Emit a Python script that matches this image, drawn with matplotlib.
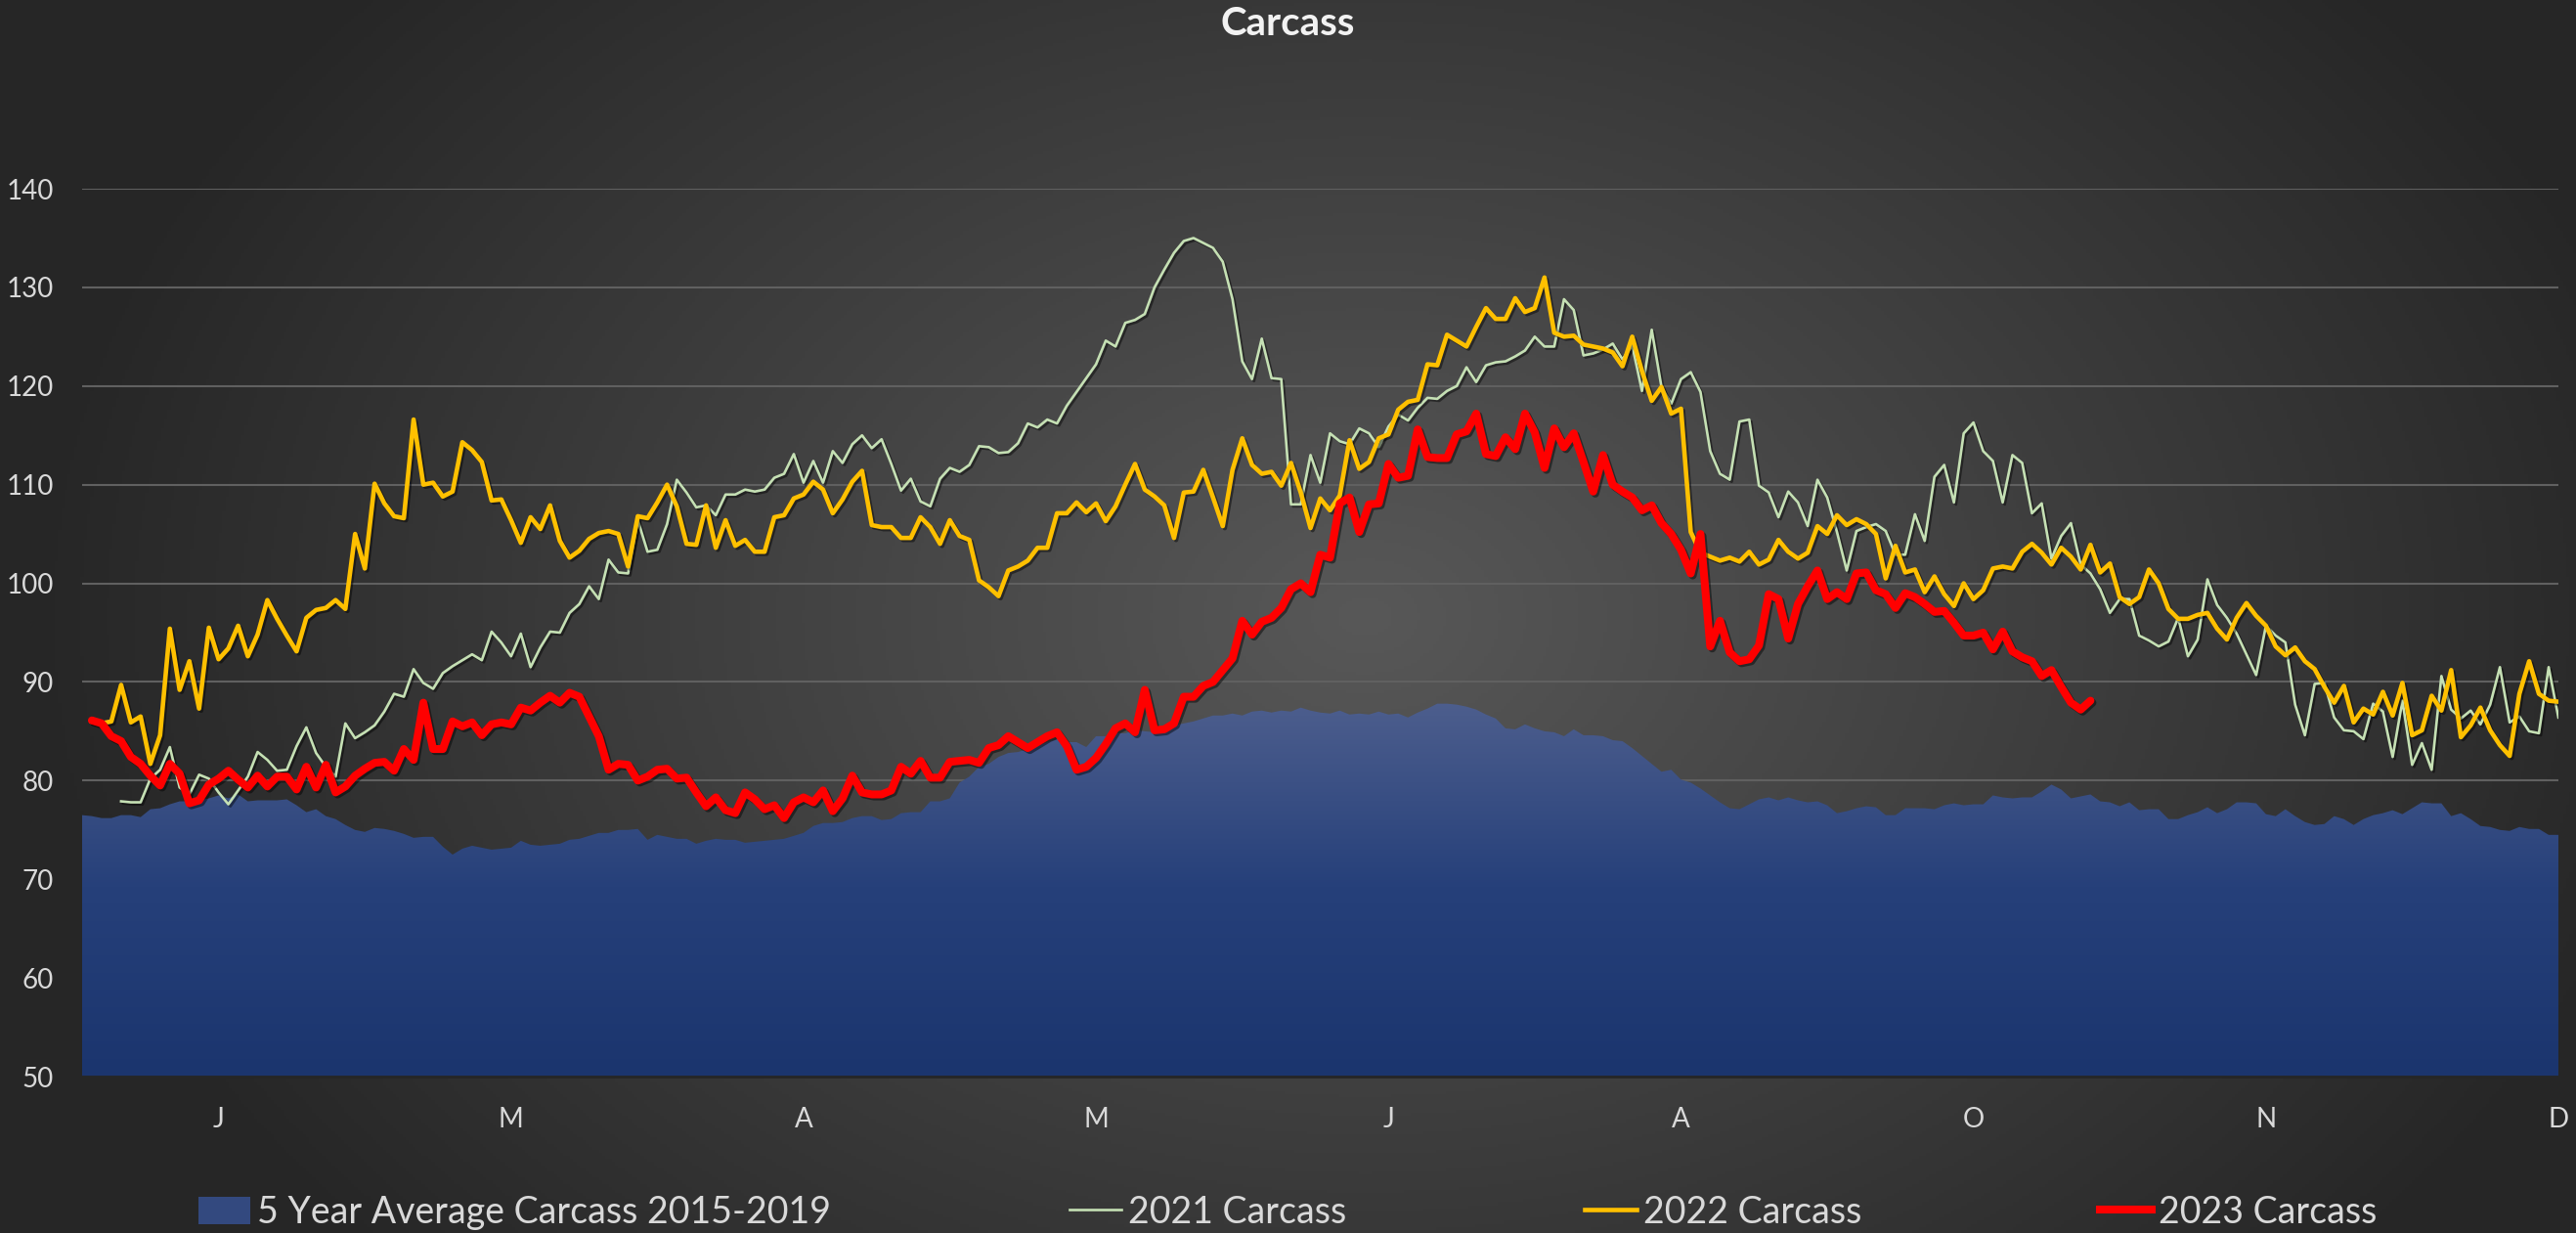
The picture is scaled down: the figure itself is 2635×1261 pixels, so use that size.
import numpy as np
import matplotlib
matplotlib.use("Agg")
import matplotlib.pyplot as plt
from matplotlib.patches import Patch, Polygon
from matplotlib.lines import Line2D
from matplotlib import patheffects as pe
from matplotlib.colors import LinearSegmentedColormap

plt.rcParams['font.family'] = ['Lato', 'DejaVu Sans']

# ---------------- data (daily business-day categories) ----------------
month_labels = ['J', 'M', 'A', 'M', 'J', 'A', 'O', 'N', 'D']
first_label_index = 14
label_interval = 30

avg_2015_2019 = [
    76.5, 76.4, 76.2, 76.2, 76.5, 76.5, 76.3, 77.1, 77.2, 77.6, 77.9, 77.9, 78.0, 78.2, 78.5, 78.2, 78.6, 77.9, 78.0, 78.0,
    78.0, 78.1, 77.5, 76.8, 77.1, 76.4, 76.1, 75.5, 75.0, 74.8, 75.2, 75.1, 74.9, 74.6, 74.2, 74.3, 74.3, 73.3, 72.5, 73.1,
    73.4, 73.2, 73.0, 73.1,
    73.2, 73.9, 73.5, 73.4, 73.5, 73.6, 74.0, 74.1, 74.4, 74.7, 74.7, 75.0, 75.0, 75.1, 74.0, 74.5, 74.3, 74.1, 74.1, 73.6,
    73.9, 74.1, 74.0, 74.0, 73.7, 73.8, 73.9, 74.0, 74.1, 74.4, 74.7, 75.4, 75.7, 75.7, 75.8, 76.2, 76.4, 76.4, 76.0, 76.1,
    76.7, 76.8,
    76.8, 77.9, 77.9, 78.2, 79.8, 80.4, 81.4, 81.7, 82.4, 82.8, 82.9, 83.2, 83.5, 83.9, 84.2, 83.9, 83.9, 83.4, 84.5, 84.5,
    84.8, 84.8, 85.1, 85.0, 84.9, 85.1, 85.6, 85.8, 86.0, 86.3, 86.6, 86.6, 86.8, 86.6, 87.0, 87.1, 86.9, 87.1, 87.0, 87.4,
    87.1, 86.9,
    86.8, 87.1, 86.7, 86.8, 86.7, 87.0, 86.7, 86.8, 86.4, 86.9, 87.3, 87.8, 87.8, 87.7, 87.5, 87.2, 86.7, 86.3, 85.3, 85.2,
    85.7, 85.3, 85.0, 84.9, 84.5, 85.2, 84.6, 84.6, 84.5, 84.1, 84.0, 83.3, 82.5, 81.7, 80.9, 81.1, 80.1, 79.8, 79.2, 78.5,
    77.8, 77.2, 77.1,
    77.6, 78.1, 78.3, 78.0, 78.3, 78.0, 77.8, 77.9, 77.5, 76.7, 76.9, 77.2, 77.4, 77.3, 76.5, 76.5, 77.2, 77.2, 77.2, 77.1,
    77.5, 77.7, 77.5, 77.6, 77.6, 78.5, 78.3, 78.2, 78.3, 78.3, 78.9, 79.6, 79.1, 78.2, 78.4, 78.6, 77.9, 77.8, 77.4, 77.8,
    77.0, 77.1,
    77.1, 76.1, 76.1, 76.5, 76.8, 77.3, 76.7, 77.1, 77.8, 77.8, 77.7, 76.6, 76.4, 77.1, 76.4, 75.8, 75.5, 75.6, 76.4, 76.1,
    75.5, 76.1, 76.5, 76.7, 77.0, 76.6, 77.2, 77.8, 77.7, 77.7, 76.4, 76.7, 76.1, 75.4, 75.3, 75.0, 74.9, 75.3, 75.1, 75.1,
    74.5, 74.5,
]

carcass_2021 = [None, None, None, None] + [
    77.9, 77.8, 77.8, 80.2, 81.1, 83.4, 79.3, 78.6, 80.6, 80.2, 78.8, 77.6, 79.0, 80.4, 82.9, 82.1, 81.0, 81.1, 83.5, 85.4,
    82.8, 81.4, 80.4, 85.8, 84.3, 84.9, 85.6, 87.0, 88.8, 88.5, 91.3, 89.9, 89.3, 90.9, 91.6, 92.2, 92.8, 92.2, 95.1, 94.0,
    92.6, 94.9, 91.5, 93.5, 95.1, 95.0, 97.0, 97.9, 99.7, 98.4, 102.4, 101.1, 101.0, 106.4, 103.2, 103.4, 106.0, 110.5, 109.2, 107.7,
    107.9, 106.9, 109.0, 109.0, 109.5, 109.3, 109.5, 110.7, 111.1, 113.1, 110.2, 112.4, 110.2, 113.4, 112.2, 114.1, 115.0, 113.7, 114.6, 112.1,
    109.4, 110.6,
    108.3, 107.8, 110.6, 111.7, 111.3, 112.0, 113.9, 113.8, 113.2, 113.3, 114.2, 116.2, 115.8, 116.6, 116.2, 118.0, 119.4, 120.8, 122.2, 124.6,
    124.0, 126.4, 126.7, 127.3, 130.0, 131.8, 133.5, 134.7, 135.0, 134.5, 134.0, 132.6, 128.8, 122.5, 120.7, 124.8, 120.8, 120.7, 108.0, 108.0,
    113.0, 110.2,
    115.2, 114.4, 114.1, 115.7, 115.2, 113.8, 115.9, 117.1, 116.5, 117.8, 118.8, 118.7, 119.5, 120.0, 121.9, 120.4, 122.1, 122.4, 122.5, 123.0,
    123.6, 125.0, 124.0, 124.0, 128.8, 127.7, 123.1, 123.3, 123.7, 124.3, 122.7, 124.1, 119.5, 125.7, 119.9, 118.2, 120.7, 121.4, 119.4, 113.4,
    111.1, 110.5, 116.4,
    116.6, 109.9, 109.2, 106.7, 109.3, 108.2, 105.8, 110.5, 108.7, 105.2, 101.3, 105.3, 105.7, 106.0, 105.3, 102.9, 102.9, 107.0, 104.3, 110.8,
    112.0, 108.2, 115.2, 116.3, 113.4, 112.4, 108.2, 113.0, 112.2, 107.1, 108.1, 102.5, 104.8, 106.1, 101.9, 101.0, 99.4, 97.0, 98.4, 98.4,
    94.7, 94.2,
    93.6, 94.1, 96.5, 92.6, 94.3, 100.4, 97.8, 96.5, 94.9, 92.8, 90.7, 95.7, 94.7, 94.0, 87.7, 84.6, 89.8, 89.9, 86.4, 85.1,
    85.0, 84.2, 87.8, 87.0, 82.4, 88.1, 81.6, 83.8, 81.1, 90.6, 87.2, 86.3, 87.1, 85.7, 87.7, 91.5, 85.9, 86.5, 85.0, 84.8,
    91.5, 86.4,
]

carcass_2022 = [None] + [
    86.0, 85.8, 86.0, 89.7, 85.9, 86.5, 81.7, 84.6, 95.4, 89.2, 92.1, 87.3, 95.5, 92.3, 93.4, 95.7, 92.6, 94.8, 98.3, 96.4,
    94.7, 93.1, 96.5, 97.3, 97.5, 98.3, 97.4, 105.0, 101.5, 110.1, 108.1, 106.8, 106.6, 116.6, 110.0, 110.2, 108.8, 109.3, 114.3, 113.5,
    112.3, 108.4, 108.5,
    106.4, 104.1, 106.7, 105.5, 107.9, 104.3, 102.6, 103.3, 104.5, 105.1, 105.3, 105.0, 101.7, 106.8, 106.6, 108.2, 110.0, 107.8, 104.0, 103.9,
    107.9, 103.6, 106.4, 103.8, 104.4, 103.2, 103.2, 106.7, 106.9, 108.6, 109.0, 110.3, 109.5, 107.1, 108.5, 110.3, 111.4, 105.9, 105.7, 105.7,
    104.6, 104.6,
    106.7, 105.7, 104.0, 106.4, 104.8, 104.4, 100.3, 99.6, 98.7, 101.3, 101.7, 102.3, 103.6, 103.6, 107.1, 107.1, 108.2, 107.2, 108.1, 106.3,
    107.8, 110.0, 112.1, 109.5, 108.8, 107.9, 104.6, 109.2, 109.3, 111.5, 108.7, 105.8, 111.5, 114.7, 112.0, 111.1, 111.3, 109.9, 112.2, 109.2,
    105.6, 108.6,
    107.4, 108.9, 114.5, 111.6, 112.3, 114.7, 115.1, 117.6, 118.4, 118.6, 122.2, 122.1, 125.2, 124.6, 124.0, 126.0, 127.9, 126.8, 126.8, 128.9,
    127.5, 127.9, 131.0, 125.4, 125.0, 125.1, 124.2, 124.0, 123.8, 123.4, 122.0, 125.0, 121.5, 118.5, 119.9, 117.2, 117.7, 105.2, 103.1, 102.7,
    102.3, 102.6, 102.2,
    103.2, 101.9, 102.4, 104.4, 103.2, 102.5, 103.1, 105.8, 105.0, 106.9, 105.9, 106.5, 106.0, 105.0, 100.5, 103.8, 101.1, 101.4, 99.1, 100.7,
    98.9, 97.7, 100.0, 98.4, 99.3, 101.5, 101.7, 101.5, 103.2, 104.0, 103.1, 101.9, 103.6, 102.7, 101.4, 103.9, 101.1, 102.0, 98.6, 97.9,
    98.6, 101.4,
    100.0, 97.4, 96.4, 96.4, 96.8, 97.0, 95.4, 94.3, 96.5, 98.0, 96.7, 95.7, 93.6, 92.7, 93.5, 92.1, 91.3, 89.5, 87.9, 89.6,
    85.9, 87.3, 86.7, 89.0, 86.6, 89.9, 84.6, 85.1, 88.6, 87.1, 91.2, 84.4, 85.6, 87.4, 85.1, 83.6, 82.5, 88.8, 92.1, 88.8,
    88.1, 88.0,
]

carcass_2023 = [None] + [
    86.1, 85.8, 84.5, 84.0, 82.4, 81.7, 80.5, 79.5, 81.7, 80.7, 77.7, 78.0, 79.6, 80.2, 81.0, 80.1, 79.3, 80.5, 79.4, 80.4,
    80.4, 79.1, 81.4, 79.3, 81.6, 78.8, 79.4, 80.5, 81.2, 81.8, 81.9, 81.0, 83.2, 82.1, 87.9, 83.2, 83.2, 86.0, 85.5, 85.9,
    84.6, 85.7, 85.9,
    85.7, 87.4, 87.1, 87.9, 88.6, 87.9, 88.9, 88.5, 86.5, 84.5, 81.1, 81.7, 81.6, 80.0, 80.4, 81.1, 81.2, 80.2, 80.3, 78.8,
    77.4, 78.3, 77.0, 76.7, 78.8, 78.1, 77.1, 77.5, 76.2, 77.8, 78.3, 77.8, 79.0, 76.9, 78.2, 80.5, 78.8, 78.6, 78.6, 79.0,
    81.4, 80.7,
    82.0, 80.3, 80.3, 81.9, 82.0, 82.1, 81.8, 83.3, 83.6, 84.5, 83.9, 83.3, 83.9, 84.5, 84.9, 83.5, 81.1, 81.4, 82.3, 83.7,
    85.3, 85.8, 84.9, 89.2, 85.1, 85.2, 85.8, 88.5, 88.5, 89.6, 90.0, 91.2, 92.4, 96.2, 94.8, 96.1, 96.5, 97.5, 99.4, 100.0,
    99.1, 102.9,
    102.6, 108.1, 108.7, 105.2, 108.0, 108.1, 112.1, 110.7, 110.9, 115.6, 112.8, 112.7, 112.7, 115.1, 115.4, 117.2, 113.1, 112.9, 114.8, 113.6,
    117.2, 115.3, 111.7, 115.7, 113.8, 115.2, 112.3, 109.3, 113.0, 110.0, 109.3, 108.7, 107.4, 107.9, 106.1, 105.0, 103.4, 101.0, 105.0, 93.6,
    96.2, 93.0, 92.1,
    92.3, 93.7, 98.9, 98.4, 94.4, 97.9, 99.7, 101.3, 98.4, 99.1, 98.4, 101.0, 101.1, 99.3, 98.9, 97.5, 99.0, 98.6, 97.9, 97.1,
    97.2, 96.0, 94.7, 94.7, 95.0, 93.3, 95.1, 93.1, 92.5, 92.1, 90.6, 91.2, 89.5, 87.9, 87.2, 88.1,
]

series_names = ['5 Year Average Carcass 2015-2019', '2021 Carcass', '2022 Carcass', '2023 Carcass']
y_ticks = [50, 60, 70, 80, 90, 100, 110, 120, 130, 140]


def arr(v):
    return np.array([np.nan if a is None else a for a in v], dtype=float)


# ---------------- figure ----------------
W, H = 2635, 1261
fig = plt.figure(figsize=(W / 100, H / 100), dpi=100)

# radial background
bg = fig.add_axes([0, 0, 1, 1], zorder=-10)
yy, xx = np.mgrid[0:1:400j, 0:1:800j]
d = np.sqrt(((xx - 0.53) / 0.52) ** 2 + ((yy - 0.5) / 0.78) ** 2)
d = np.clip(d, 0, 1)
c0 = np.array([0x58, 0x58, 0x58]) / 255.0
c1 = np.array([0x26, 0x26, 0x26]) / 255.0
img = c0[None, None, :] * (1 - d[..., None]) + c1[None, None, :] * d[..., None]
bg.imshow(img, extent=[0, 1, 0, 1], aspect='auto', origin='lower')
bg.set_axis_off()

left, right = 84 / W, 2617 / W
bottom, top = 1 - 1101 / H, 1 - 193 / H
ax = fig.add_axes([left, bottom, right - left, top - bottom])
ax.set_facecolor('none')

avg = arr(avg_2015_2019)
x = np.arange(len(avg))
ymin = y_ticks[0]

# gradient-filled area
cmap = LinearSegmentedColormap.from_list('blu', ['#1b356e', '#26407a', '#4e5f8e'])
grad = np.linspace(0, 1, 256).reshape(-1, 1)
im = ax.imshow(grad, extent=[x[0], x[-1], ymin, 88.5], origin='lower', aspect='auto',
               cmap=cmap, zorder=1, interpolation='bicubic')
poly = Polygon(np.column_stack([np.r_[x[0], x, x[-1]], np.r_[ymin, avg, ymin]]),
               closed=True, facecolor='none', edgecolor='none', transform=ax.transData)
ax.add_patch(poly)
im.set_clip_path(poly)

shadow = lambda: [pe.SimpleLineShadow(offset=(1.5, -1.5), alpha=0.45, shadow_color='black'), pe.Normal()]

c21 = arr(carcass_2021)
c22 = arr(carcass_2022)
c23 = arr(carcass_2023)
ax.plot(np.arange(len(c21)), c21, color='#c5e0b4', lw=1.9, zorder=3, path_effects=shadow(), solid_joinstyle='round')
ax.plot(np.arange(len(c22)), c22, color='#ffc000', lw=3.3, zorder=4, path_effects=shadow(), solid_joinstyle='round')
ax.plot(np.arange(len(c23)), c23, color='#ff0000', lw=5.8, zorder=5, path_effects=shadow(), solid_joinstyle='round',
        solid_capstyle='round')

ax.set_xlim(x[0], x[-1])
ax.set_ylim(y_ticks[0], y_ticks[-1])
ax.set_yticks(y_ticks)
ax.set_xticks(list(range(first_label_index, len(avg), label_interval)))
ax.set_xticklabels(month_labels)
ax.yaxis.grid(True, color='#606060', lw=1.5)
ax.xaxis.grid(False)
ax.set_axisbelow(True)
for s in ['top', 'right', 'left']:
    ax.spines[s].set_visible(False)
ax.spines['bottom'].set_color('#262626')
ax.spines['bottom'].set_linewidth(2)
ax.spines['bottom'].set_zorder(6)
ax.tick_params(axis='both', length=0, labelsize=20, labelcolor='#d9d9d9')
ax.tick_params(axis='y', pad=21)
ax.tick_params(axis='x', pad=22)

fig.text(0.5, 1 - 24 / H, 'Carcass', ha='center', va='center', fontsize=29,
         fontweight='bold', color='#f2f2f2')

handles = [Patch(facecolor='#33497f', edgecolor='none'),
           Line2D([], [], color='#c5e0b4', lw=1.9),
           Line2D([], [], color='#ffc000', lw=3.3),
           Line2D([], [], color='#ff0000', lw=5.8)]
leg = fig.legend(handles, series_names, loc='center', bbox_to_anchor=(0.5, 1 - 1240 / H), ncol=4,
                 frameon=False, fontsize=27, columnspacing=6.5, handlelength=1.4, handleheight=0.8,
                 handletextpad=0.2, borderpad=0, labelcolor='#d9d9d9')

fig.savefig('out.png', dpi=100)
